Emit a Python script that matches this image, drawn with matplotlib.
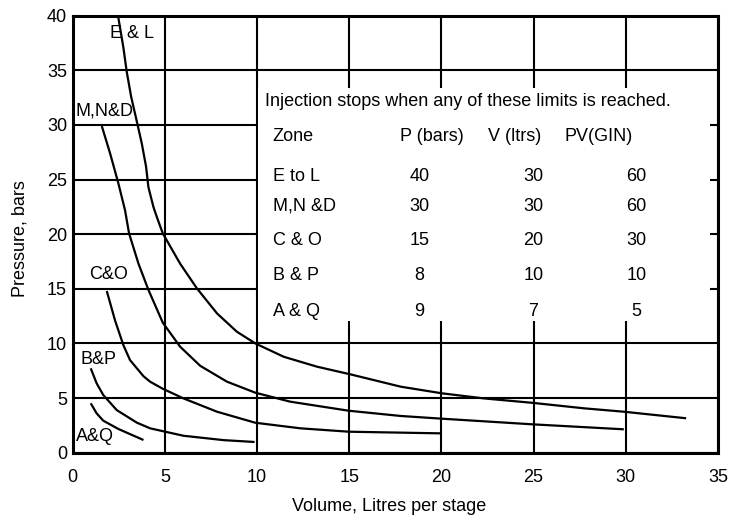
import matplotlib
matplotlib.use("Agg")
import matplotlib.pyplot as plt
from matplotlib.patches import Rectangle

plt.rcParams['font.family'] = ['Liberation Sans', 'DejaVu Sans']

# curves (volume in litres, pressure in bars)
el_x = [2.48, 2.75, 2.93, 3.17, 3.51, 3.75, 3.98, 4.11, 4.38, 4.56, 4.89, 5.83, 6.74,
        7.83, 8.91, 9.91, 11.45, 13.26, 15.07, 17.8, 20.05, 22.3, 24.9, 27.75, 29.9, 33.28]
el_y = [39.8, 37.1, 34.9, 32.6, 30.1, 28.3, 26.2, 24.3, 22.5, 21.6, 20.07, 17.3, 15.04,
        12.75, 11.07, 10.0, 8.78, 7.87, 7.17, 6.04, 5.43, 4.97, 4.57, 4.06, 3.75, 3.15]

mnd_x = [1.58, 2.03, 2.48, 2.84, 3.06, 3.57, 4.11, 4.89, 5.83, 6.92, 8.37, 9.91,
         11.8, 14.98, 17.8, 20.05, 24.9, 29.9]
mnd_y = [29.9, 27.4, 24.65, 22.2, 20.07, 17.3, 14.9, 11.9, 9.7, 7.95, 6.5, 5.49,
         4.67, 3.84, 3.36, 3.11, 2.6, 2.14]

co_x = [1.85, 2.3, 2.75, 3.11, 3.84, 4.2, 4.89, 6.01, 7.83, 9.91, 12.36, 14.98, 19.96]
co_y = [14.8, 12.1, 9.85, 8.48, 7.0, 6.5, 5.85, 4.97, 3.75, 2.74, 2.23, 1.92, 1.77]

bp_x = [0.98, 1.3, 1.66, 2.39, 3.48, 4.2, 6.01, 8.18, 9.87]
bp_y = [7.72, 6.35, 5.28, 3.9, 2.75, 2.23, 1.55, 1.15, 0.98]

aq_x = [0.98, 1.3, 1.66, 2.48, 3.84]
aq_y = [4.52, 3.6, 2.93, 2.17, 1.16]

curve_labels = ['E & L', 'M,N&D', 'C&O', 'B&P', 'A&Q']

# limits table
table_title = 'Injection stops when any of these limits is reached.'
table_header = ['Zone', 'P (bars)', 'V (ltrs)', 'PV(GIN)']
zones = ['E to L', 'M,N &D', 'C & O', 'B & P', 'A & Q']
p_bars = [40, 30, 15, 8, 9]
v_ltrs = [30, 30, 20, 10, 7]
pv_gin = [60, 60, 30, 10, 5]

x_ticks = [0, 5, 10, 15, 20, 25, 30, 35]
y_ticks = [0, 5, 10, 15, 20, 25, 30, 35, 40]

FS = 13

fig = plt.figure(figsize=(7.34, 5.16), dpi=100)
ax = fig.add_axes([0.099, 0.1227, 0.879, 0.8469])

ax.set_xlim(0, 35)
ax.set_ylim(0, 40)
ax.set_xticks(x_ticks)
ax.set_yticks(y_ticks)
ax.tick_params(axis='x', length=0, pad=12, labelsize=FS)
ax.tick_params(axis='y', length=0, pad=4, labelsize=FS)
ax.grid(True, color='black', lw=1.5, zorder=1)
ax.set_axisbelow(True)
for s in ax.spines.values():
    s.set_linewidth(2.2)
    s.set_zorder(5)

# white panel holding the table, covering the grid
ax.add_patch(Rectangle((10.05, 12.05), 24.55, 21.35, facecolor='white',
                       edgecolor='none', zorder=2))

for xs, ys in [(el_x, el_y), (mnd_x, mnd_y), (co_x, co_y), (bp_x, bp_y), (aq_x, aq_y)]:
    ax.plot(xs, ys, color='black', lw=1.6, zorder=3, solid_capstyle='butt',
            solid_joinstyle='round')

label_pos = [(2.0, 38.4), (0.15, 31.3), (0.9, 16.35), (0.45, 8.57), (0.2, 1.46)]
for txt, (lx, ly) in zip(curve_labels, label_pos):
    ax.text(lx, ly, txt, fontsize=FS, va='center', ha='left', zorder=4)

ax.text(10.45, 32.1, table_title, fontsize=FS, va='center', ha='left', zorder=4)
hdr_x = [10.85, 19.5, 24.0, 28.55]
ax.text(hdr_x[0], 28.9, table_header[0], fontsize=FS, va='center', ha='left', zorder=4)
for hx, h in zip(hdr_x[1:], table_header[1:]):
    ax.text(hx, 28.9, h, fontsize=FS, va='center', ha='center', zorder=4)

row_y = [25.25, 22.57, 19.4, 16.26, 12.96]
for i, ry in enumerate(row_y):
    ax.text(10.85, ry, zones[i], fontsize=FS, va='center', ha='left', zorder=4)
    ax.text(18.8, ry, str(p_bars[i]), fontsize=FS, va='center', ha='center', zorder=4)
    ax.text(25.0, ry, str(v_ltrs[i]), fontsize=FS, va='center', ha='center', zorder=4)
    ax.text(30.6, ry, str(pv_gin[i]), fontsize=FS, va='center', ha='center', zorder=4)

ax.set_xlabel('Volume, Litres per stage', fontsize=FS)
ax.set_ylabel('Pressure, bars', fontsize=FS)
ax.xaxis.set_label_coords(0.49, -0.103)
ax.yaxis.set_label_coords(-0.068, 0.49)

fig.savefig('out.png', dpi=100)
